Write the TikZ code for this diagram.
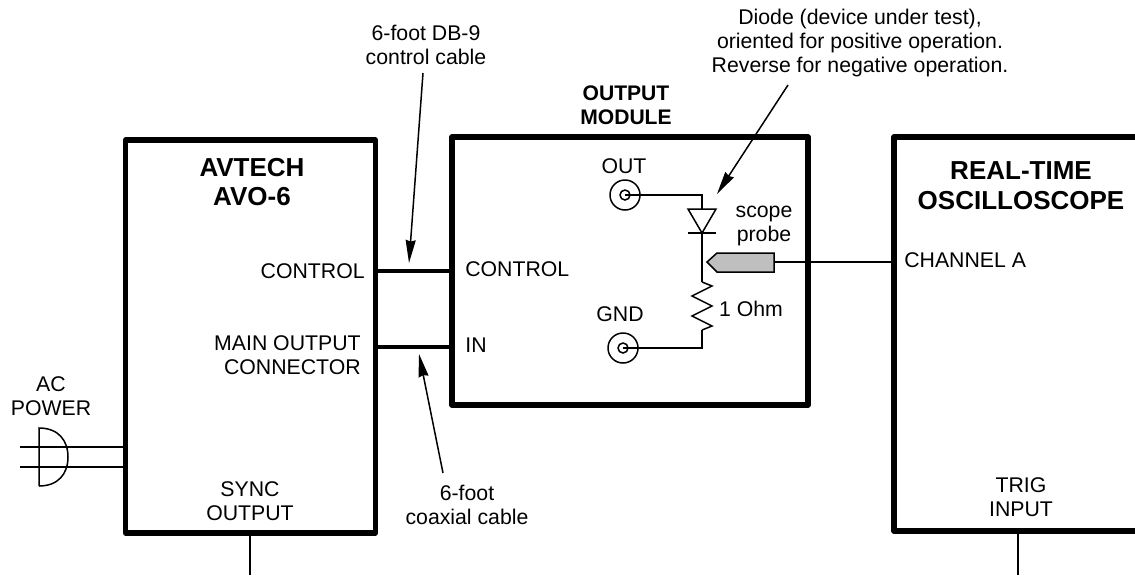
\documentclass[tikz,border=0pt]{standalone}
\usepackage{fontspec}
\setmainfont{Liberation Sans}
\usetikzlibrary{arrows.meta}
\tikzset{
	unitbox/.style={draw,line width=0.105cm,line join=round,minimum width=#1},
	lbl/.style={align=center,inner sep=0pt,font=\fontsize{12.1pt}{13.4pt}\selectfont},
	title/.style={align=center,inner sep=0pt,font=\fontsize{14.8pt}{17pt}\selectfont\bfseries},
	wire/.style={line width=0.03cm},
	cable/.style={line width=0.07cm},
	callout/.style={line width=0.03cm,-{Stealth[length=0.46cm,width=0.2cm,inset=0.03cm]}},
	jack/.style={draw,circle,line width=0.03cm,inner sep=0pt,minimum size=#1}
}
\begin{document}
\begin{tikzpicture}[x=0.02cm,y=-0.02cm]
	\useasboundingbox (0,0) rectangle (1135,575);
	\clip (0,0) rectangle (1135,575);
	\node[unitbox=5cm,minimum height=7.86cm] (avtech) at (250.5,336.5) {};
	\node[unitbox=7.12cm,minimum height=5.36cm] (module) at (630,271) {};
	\node[unitbox=8cm,minimum height=7.88cm] (scope) at (1094,334) {};

	\node[title] (avtechname) at (252,182) {AVTECH\\AVO-6};
	\node[title] (scopename) at (1021,186) {REAL-TIME\\OSCILLOSCOPE};
	\node[align=center,inner sep=0pt,font=\fontsize{12pt}{13.7pt}\selectfont\bfseries] (modname) at (626,105) {OUTPUT\\MODULE};

	\node[lbl] (cablelbl) at (426,45) {6-foot DB-9\\control cable};
	\node[lbl] (diodelbl) at (860,43) {Diode (device under test),\\oriented for positive operation.\\Reverse for negative operation.};
	\node[lbl] (coaxlbl) at (467,505) {6-foot\\coaxial cable};
	\node[lbl,anchor=east] (ctrlout) at (365,271) {CONTROL};
	\node[lbl,anchor=east,align=right] (mainout) at (361,355) {MAIN OUTPUT\\CONNECTOR};
	\node[lbl] (aclbl) at (51,396) {AC\\POWER};
	\node[lbl] (synclbl) at (250,501) {SYNC\\OUTPUT};
	\node[lbl,anchor=west] (ctrlin) at (465,269) {CONTROL};
	\node[lbl,anchor=west] (inlbl) at (465,345) {IN};
	\node[lbl] (outlbl) at (624,166) {OUT};
	\node[lbl] (gndlbl) at (620,314) {GND};
	\node[lbl] (probelbl) at (764,226) {scope\\probe};
	\node[lbl] (ohmlbl) at (751,309) {1 Ohm};
	\node[lbl,anchor=west] (chanlbl) at (904,260) {CHANNEL A};
	\node[lbl] (triglbl) at (1021,497) {TRIG\\INPUT};

	\coordinate (ctrla) at (avtech.east |- ctrlout);
	\coordinate (ctrlb) at (module.west |- ctrlout);
	\coordinate (ina) at (375,347);
	\coordinate (inb) at (452,347);
	\draw[cable] (ctrla) -- (ctrlb);
	\draw[cable] (ina) -- (inb);

	\coordinate (cablefrom) at (423,73);
	\coordinate (cableto) at (409,263);
	\coordinate (coaxfrom) at (443,473);
	\coordinate (coaxto) at (419,354);
	\coordinate (diodefrom) at (788,85);
	\coordinate (diodeto) at (717,194);
	\draw[callout] (cablefrom) -- (cableto);
	\draw[callout] (coaxfrom) -- (coaxto);
	\draw[callout] (diodefrom) -- (diodeto);

	\node[jack=0.6cm] (outjack) at (625,195) {};
	\node[jack=0.2cm] (outpin) at (625,195) {};
	\node[jack=0.6cm] (gndjack) at (623,348) {};
	\node[jack=0.2cm] (gndpin) at (623,348) {};
	\coordinate (dtop) at (702,209);
	\coordinate (dbot) at (702,233);
	\coordinate (rtop) at (702,282);
	\coordinate (rbot) at (702,330);
	\draw[wire] (outpin.center) -| (dtop);
	\draw[wire] (688,209) -- (716,209) -- (dbot) -- cycle;
	\draw[wire] (688,233) -- (716,233);
	\draw[wire] (dbot) -- (rtop);
	\draw[wire] (rtop) -- (712,286) -- (692,296) -- (712,306) -- (692,316) -- (712,326) -- (rbot);
	\draw[wire] (rbot) |- (gndpin.center);

	\coordinate (probetip) at (707,262);
	\coordinate (probeend) at (774,262);
	\draw[wire,fill=black!25] (probetip) -- (717,253) -- (774,253) -- (774,272) -- (717,272) -- cycle;
	\draw[wire] (probeend) -- (scope.west |- probeend);

	\coordinate (acone) at (20,447);
	\coordinate (actwo) at (20,467);
	\draw[wire] (acone) -- (avtech.west |- acone);
	\draw[wire] (actwo) -- (avtech.west |- actwo);
	\draw[wire] (39,486) -- (39,428) .. controls (58,428) and (68,440) .. (68,457) .. controls (68,474) and (58,486) .. (39,486);

	\coordinate (syncend) at (250,575);
	\coordinate (trigend) at (1018,575);
	\draw[wire] (avtech.south -| syncend) -- (syncend);
	\draw[wire] (scope.south -| trigend) -- (trigend);
\end{tikzpicture}
\end{document}
